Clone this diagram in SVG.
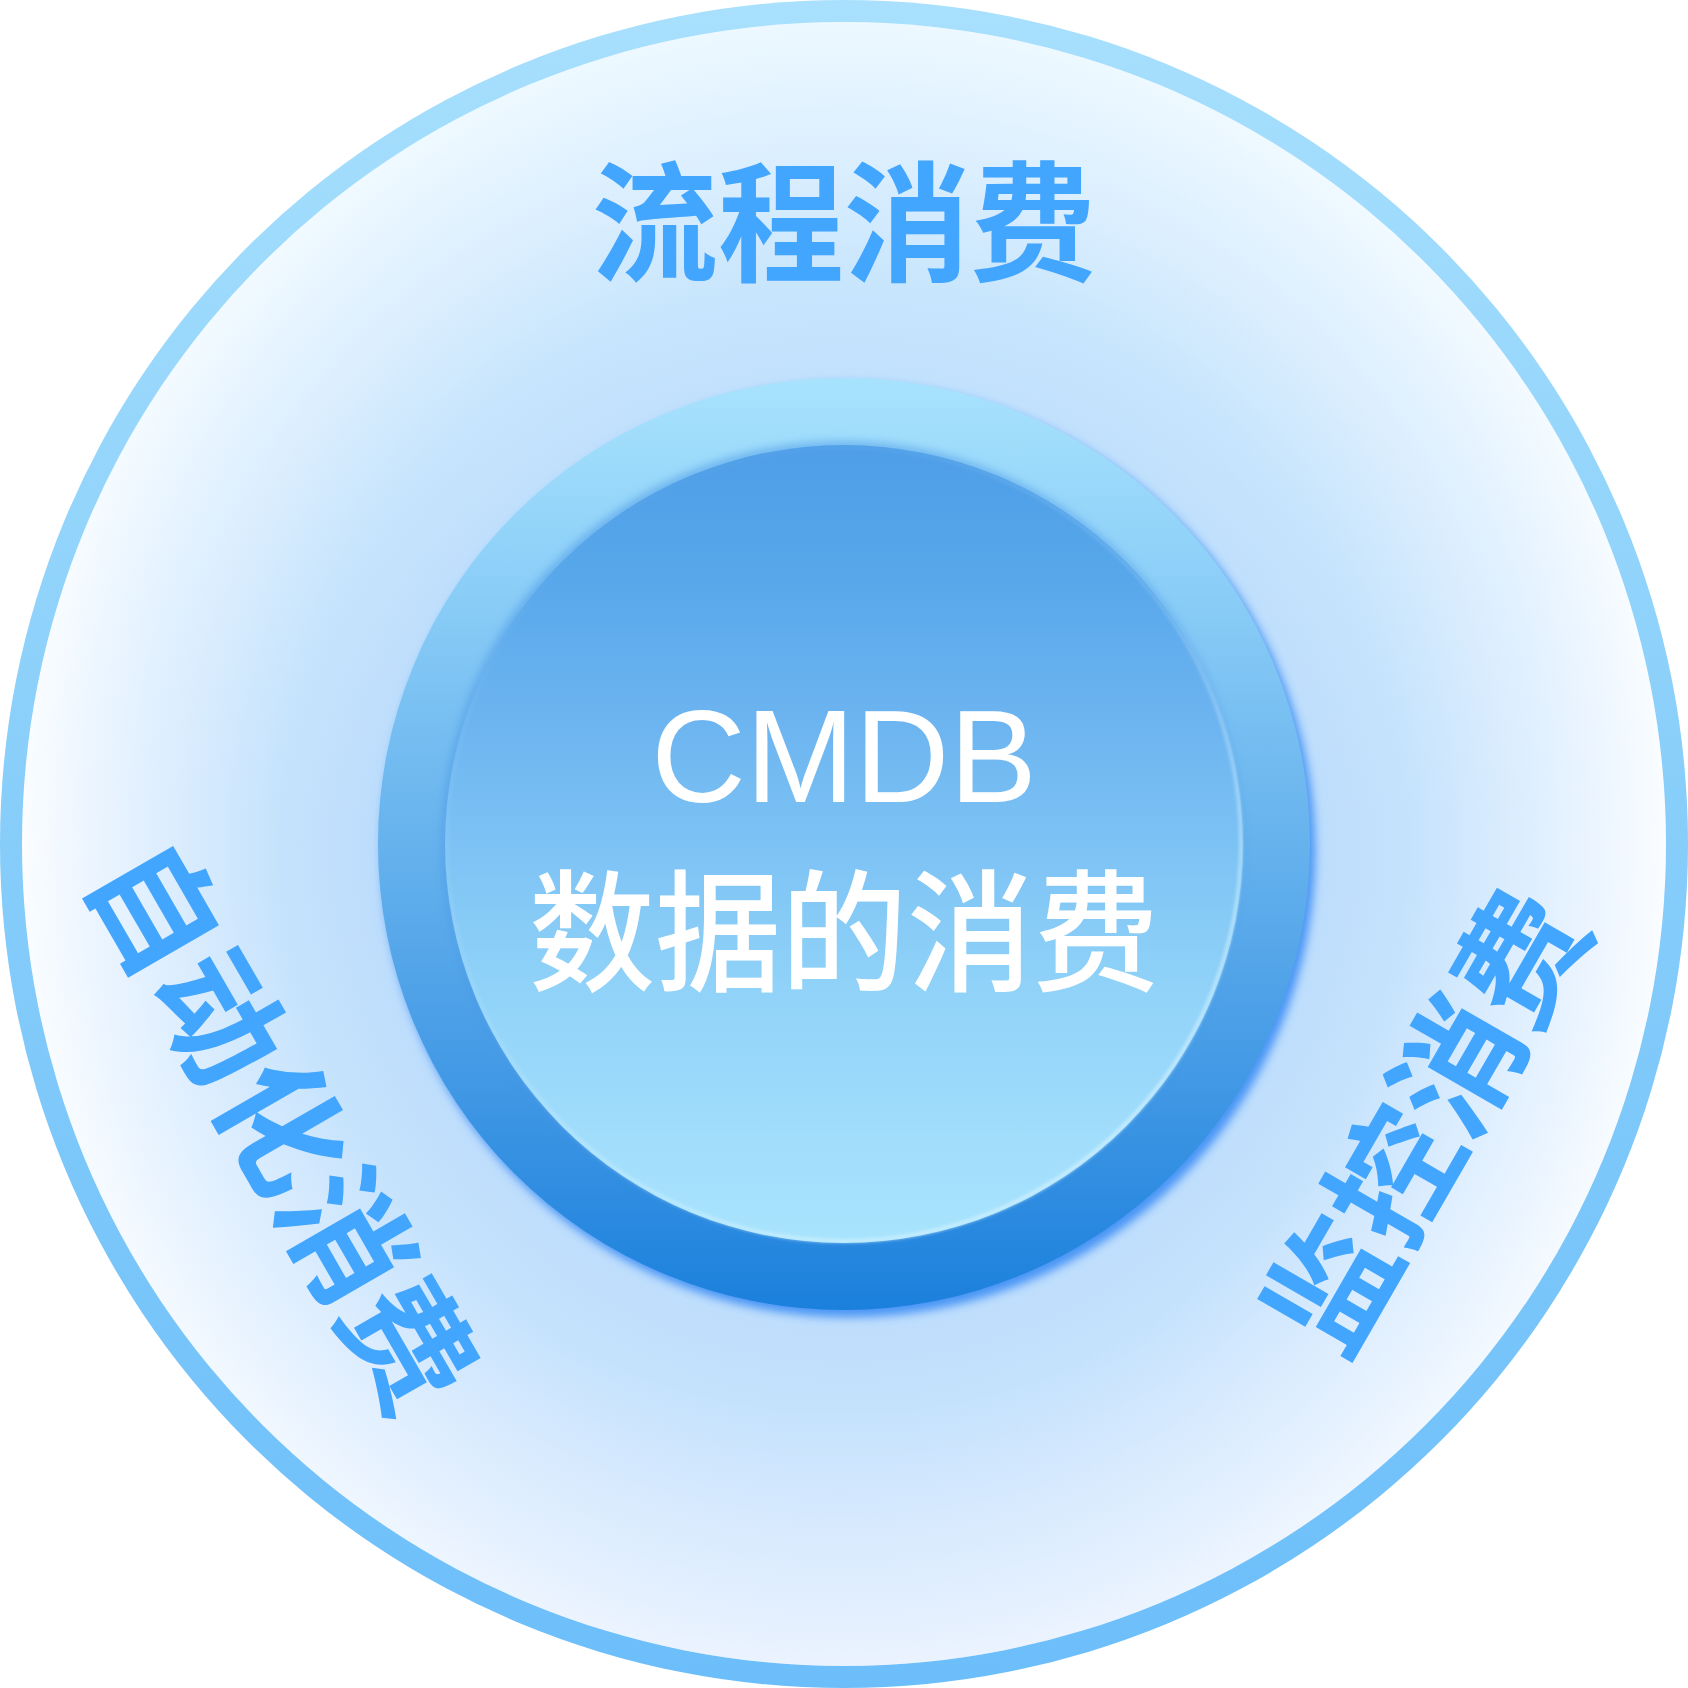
<svg xmlns="http://www.w3.org/2000/svg" width="1688" height="1688" viewBox="0 0 1688 1688">
  <defs>
    <linearGradient id="ringGrad" gradientUnits="userSpaceOnUse" x1="0" y1="0" x2="0" y2="1688">
      <stop offset="0" stop-color="#a8e0fd"/>
      <stop offset="0.5" stop-color="#86cdfa"/>
      <stop offset="1" stop-color="#6cbefa"/>
    </linearGradient>
    <radialGradient id="bgGrad" gradientUnits="userSpaceOnUse" cx="844" cy="844" r="822">
      <stop offset="0" stop-color="#b4d6fc"/>
      <stop offset="0.56" stop-color="#bcdcfc"/>
      <stop offset="0.68" stop-color="#c4e2fc"/>
      <stop offset="0.82" stop-color="#dcedfe"/>
      <stop offset="0.93" stop-color="#eef6ff"/>
      <stop offset="1" stop-color="#fbfdff"/>
    </radialGradient>
    <linearGradient id="tintGrad" gradientUnits="userSpaceOnUse" x1="0" y1="22" x2="0" y2="1666">
      <stop offset="0" stop-color="#d2f0ff" stop-opacity="0.35"/>
      <stop offset="0.5" stop-color="#d2f0ff" stop-opacity="0"/>
      <stop offset="1" stop-color="#b8d4fc" stop-opacity="0.25"/>
    </linearGradient>
    <linearGradient id="midGrad" gradientUnits="userSpaceOnUse" x1="0" y1="378" x2="0" y2="1310">
      <stop offset="0" stop-color="#a8e3fd"/>
      <stop offset="0.2" stop-color="#8ed0f8"/>
      <stop offset="0.5" stop-color="#66b2ed"/>
      <stop offset="0.78" stop-color="#3e96e4"/>
      <stop offset="1" stop-color="#1b80dc"/>
    </linearGradient>
    <linearGradient id="coreGrad" gradientUnits="userSpaceOnUse" x1="0" y1="445" x2="0" y2="1243">
      <stop offset="0" stop-color="#4e9ee8"/>
      <stop offset="0.15" stop-color="#56a6ea"/>
      <stop offset="0.34" stop-color="#6cb4f0"/>
      <stop offset="0.5" stop-color="#7cc2f4"/>
      <stop offset="0.68" stop-color="#90d2f8"/>
      <stop offset="0.88" stop-color="#a2defc"/>
      <stop offset="1" stop-color="#a8e4fd"/>
    </linearGradient>
    <linearGradient id="rimGrad" gradientUnits="userSpaceOnUse" x1="600" y1="480" x2="1090" y2="1210">
      <stop offset="0" stop-color="#d4f2ff" stop-opacity="0"/>
      <stop offset="0.45" stop-color="#d4f2ff" stop-opacity="0.15"/>
      <stop offset="1" stop-color="#d4f2ff" stop-opacity="0.75"/>
    </linearGradient>
    <filter id="midShadow" x="-10%" y="-10%" width="120%" height="120%">
      <feGaussianBlur stdDeviation="5"/>
    </filter>
    <filter id="coreShadow" x="-10%" y="-10%" width="120%" height="120%">
      <feGaussianBlur stdDeviation="4"/>
    </filter>
    <filter id="soft" x="-10%" y="-10%" width="120%" height="120%">
      <feGaussianBlur stdDeviation="1.5"/>
    </filter>
  </defs>
  <style>
    .lbl { font-family: "Noto Sans CJK SC", "Noto Sans", sans-serif; font-weight: 700; font-size: 130px; fill: #42a5fe; text-anchor: middle; }
    .cmdb { font-family: "Liberation Sans", Arial, sans-serif; font-size: 131px; fill: #ffffff; text-anchor: middle; }
    .sub { font-family: "Noto Sans CJK SC", "Noto Sans", sans-serif; font-weight: 500; font-size: 132px; fill: #ffffff; text-anchor: middle; }
  </style>

  <g id="outer">
    <circle cx="844" cy="844" r="844" fill="url(#ringGrad)"/>
    <circle cx="844" cy="844" r="822" fill="url(#bgGrad)"/>
    <circle cx="844" cy="844" r="822" fill="url(#tintGrad)"/>
  </g>

  <g id="ring">
    <circle cx="845" cy="848" r="467" fill="#8fc0f8" opacity="0.25" filter="url(#midShadow)"/>
    <circle cx="849" cy="851" r="466" fill="#3d8ef5" opacity="0.9" filter="url(#midShadow)"/>
    <circle cx="844" cy="844" r="466" fill="url(#midGrad)"/>
  </g>

  <g id="core">
    <circle cx="842" cy="841" r="400" fill="#4a96e6" opacity="0.55" filter="url(#coreShadow)"/>
    <circle cx="844" cy="844" r="399" fill="url(#coreGrad)"/>
    <circle cx="844" cy="844" r="397" fill="none" stroke="url(#rimGrad)" stroke-width="4" filter="url(#soft)"/>
  </g>

  <g id="label-top">
    <text class="lbl" transform="translate(844,221) scale(0.97,1)" y="50">流程消费</text>
  </g>

  <g id="label-left">
    <text class="lbl" transform="translate(284,1125) rotate(60) scale(0.97,1)" y="50">自动化消费</text>
  </g>

  <g id="label-right">
    <text class="lbl" transform="translate(1425,1120) rotate(-60) scale(0.97,1)" y="50">监控消费</text>
  </g>

  <g id="center-text">
    <text class="cmdb" x="844" y="802">CMDB</text>
    <text class="sub" transform="translate(844,931) scale(0.955,1)" y="50">数据的消费</text>
  </g>
</svg>
